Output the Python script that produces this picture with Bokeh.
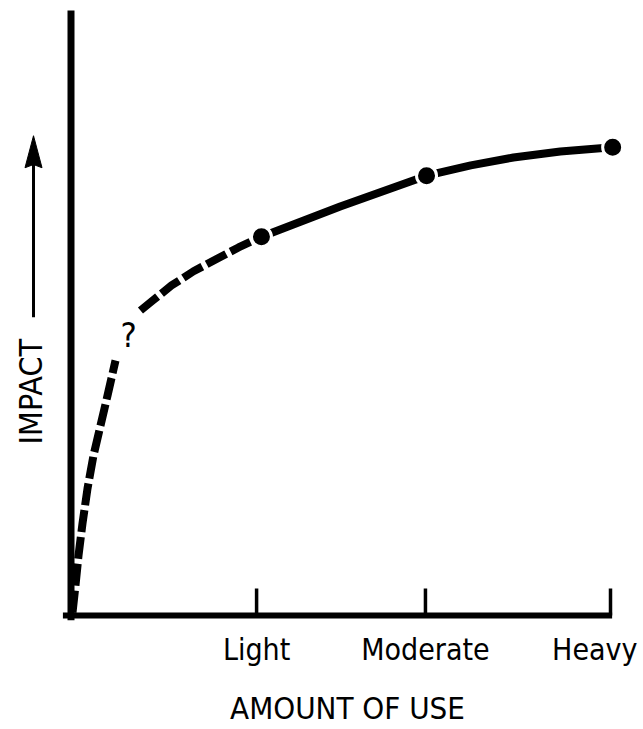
from bokeh.plotting import figure
from bokeh.models import Range1d
from bokeh.core.properties import value
from bokeh.embed import file_html
from bokeh.resources import INLINE
import math

# ---- data ----
use_levels = ["Light", "Moderate", "Heavy"]
use_ticks = [3.44, 6.57, 10.0]

dot_use = [3.53, 6.59, 10.04]
dot_impact = [6.26, 7.27, 7.74]

low_use = [0.028, 0.083, 0.139, 0.213, 0.306, 0.417, 0.547, 0.677, 0.825]
low_impact = [0.050, 0.496, 0.992, 1.521, 2.099, 2.645, 3.140, 3.636, 4.215]

mid_use = [1.288, 1.492, 1.863, 2.271, 2.716, 3.105, 3.53]
mid_impact = [5.041, 5.190, 5.455, 5.690, 5.901, 6.083, 6.26]

high_use = [3.53, 4.99, 6.59, 7.41, 8.20, 9.07, 10.04]
high_impact = [6.26, 6.76, 7.27, 7.44, 7.57, 7.67, 7.74]

x_title = "AMOUNT OF USE"
y_title = "IMPACT"
unknown_mark = "?"

FONT = value("DejaVu Sans Condensed")
INK = "#000000"

W, H = 643, 729
X0, X1 = -1.3068, 10.6117
Y0, Y1 = -1.8843, 10.1653
p = figure(width=W, height=H, output_backend="svg", toolbar_location=None,
           x_axis_type=None, y_axis_type=None, min_border=0,
           x_range=Range1d(X0, X1), y_range=Range1d(Y0, Y1))
p.grid.visible = False
p.outline_line_color = None
p.background_fill_color = "white"
p.border_fill_color = "white"

px_x = (X1 - X0) / W   # data units per pixel
px_y = (Y1 - Y0) / H

# axis lines
p.segment(x0=[0], y0=[-0.08], x1=[0], y1=[10.0], line_color=INK, line_width=7, line_cap="butt")
p.segment(x0=[-0.15], y0=[0], x1=[use_ticks[-1] + 0.03], y1=[0], line_color=INK, line_width=6, line_cap="butt")
# tick marks pointing up
p.segment(x0=use_ticks, y0=[0] * len(use_ticks), x1=use_ticks, y1=[27 * px_y] * len(use_ticks),
          line_color=INK, line_width=3.5, line_cap="butt")

# curves
p.line(low_use, low_impact, line_color=INK, line_width=8, line_dash="22 5",
       line_cap="butt", line_join="round")
p.line(mid_use, mid_impact, line_color=INK, line_width=8, line_dash="22 5",
       line_cap="butt", line_join="round")
p.line(high_use, high_impact, line_color=INK, line_width=8, line_cap="butt", line_join="round")
p.scatter(dot_use, dot_impact, size=20, fill_color=INK, line_color="white", line_width=3)

# question mark
p.text(x=[1.066], y=[4.63], text=[unknown_mark], text_font=FONT, text_font_size="34px",
       text_align="center", text_baseline="alphabetic", text_color=INK)

# tick labels
p.text(x=use_ticks[:2], y=[0, 0], text=use_levels[:2], text_font=FONT, text_font_size="30px",
       text_align="center", text_baseline="alphabetic", y_offset=34, text_color=INK)
p.text(x=use_ticks[2:], y=[0], text=use_levels[2:], text_font=FONT, text_font_size="30px",
       text_align="right", text_baseline="alphabetic", x_offset=27, y_offset=34, text_color=INK)

# axis titles
p.text(x=[5.125], y=[0], text=[x_title], text_font=FONT, text_font_size="31px",
       text_align="center", text_baseline="alphabetic", y_offset=92, text_color=INK)
p.text(x=[-0.75], y=[3.70], text=[y_title], text_font=FONT, text_font_size="32px",
       text_align="center", text_baseline="alphabetic", angle=math.pi / 2, text_color=INK)

# arrow beside IMPACT
ax = -0.695
tail, tip = 4.93, 7.93
head_len, head_half = 32 * px_y, 8.5 * px_x
p.segment(x0=[ax], y0=[tail], x1=[ax], y1=[tip - head_len * 0.8], line_color=INK, line_width=3)
p.patch(x=[ax, ax + head_half, ax, ax - head_half],
        y=[tip, tip - head_len, tip - head_len * 0.9, tip - head_len],
        fill_color=INK, line_color=INK, line_width=1)

open("out.html", "w").write(file_html(p, INLINE))
